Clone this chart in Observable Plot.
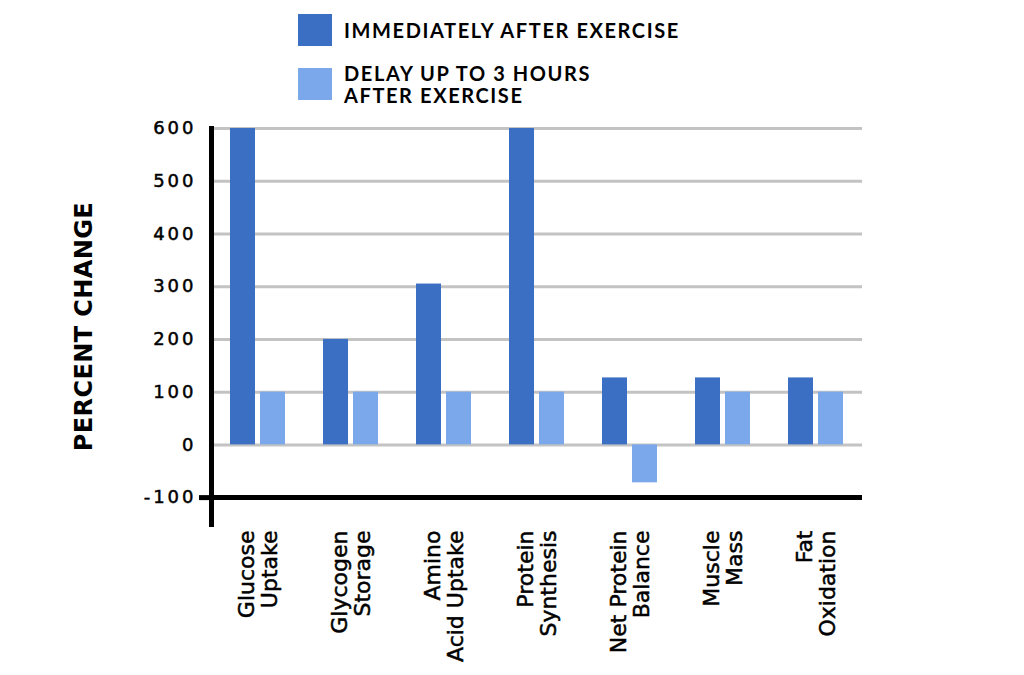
<!DOCTYPE html>
<html><head><meta charset="utf-8">
<script src="https://cdn.jsdelivr.net/npm/d3@7"></script>
<script src="https://cdn.jsdelivr.net/npm/@observablehq/plot@0.6"></script>
<style>
body{margin:0;background:#fff;font-family:Lato,"DejaVu Sans",sans-serif;color:#000;}
#legend{position:relative;height:110px;width:1024px;}
.item{position:absolute;left:298px;display:flex;align-items:center;}
.sw{width:34px;height:32px;flex:none;}
.lab{margin-left:12px;font-size:20px;letter-spacing:1.6px;line-height:22px;font-weight:700;white-space:pre;}
#chart svg{font-family:"DejaVu Sans",sans-serif;}
g[aria-label="y-axis tick label"] text{font-size:18px;letter-spacing:3px;stroke:#000;stroke-width:0.5px;}
g[aria-label="y-axis label"] text{font-size:24px;font-weight:bold;letter-spacing:0.4px;}
g[aria-label="fx-axis tick label"] text{font-size:22px;stroke:#000;stroke-width:0.5px;}
</style></head><body>
<div id="legend"></div>
<div id="chart"></div>
<script>
const categories = ["Glucose Uptake","Glycogen Storage","Amino Acid Uptake","Protein Synthesis","Net Protein Balance","Muscle Mass","Fat Oxidation"];
const tickLabels = ["Glucose\nUptake","Glycogen\nStorage","Amino\nAcid Uptake","Protein\nSynthesis","Net Protein\nBalance","Muscle\nMass","Fat\nOxidation"];
const series = ["Immediately after exercise","Delay up to 3 hours after exercise"];
const legendLabels = ["IMMEDIATELY AFTER EXERCISE","DELAY UP TO 3 HOURS\nAFTER EXERCISE"];
const immediate = [600, 200, 305, 600, 127, 127, 127];
const delayed = [100, 100, 100, 100, -72, 100, 100];
const yTicks = [-100, 0, 100, 200, 300, 400, 500, 600];
const gridTicks = [0, 100, 200, 300, 400, 500, 600];
const colors = ["#3a6fc4", "#7ba8eb"];

const data = categories.flatMap((c, i) => [
  {category: c, series: series[0], value: immediate[i]},
  {category: c, series: series[1], value: delayed[i]}
]);

// legend
const legend = document.getElementById("legend");
const tops = [14, 68];
series.forEach((s, i) => {
  const item = document.createElement("div");
  item.className = "item";
  item.style.top = tops[i] + "px";
  item.style.height = "32px";
  const sw = document.createElement("div");
  sw.className = "sw";
  sw.style.background = colors[i];
  const lab = document.createElement("div");
  lab.className = "lab";
  lab.textContent = legendLabels[i];
  item.appendChild(sw); item.appendChild(lab);
  legend.appendChild(item);
});

const plot = Plot.plot({
  width: 1024, height: 565,
  marginTop: 18, marginBottom: 151, marginLeft: 211, marginRight: 162,
  fx: {domain: categories, padding: 0, label: null},
  x: {domain: series, paddingInner: 0.18, paddingOuter: 0.64, axis: null},
  y: {domain: [-151, 600], axis: null},
  color: {domain: series, range: colors},
  marks: [
    Plot.ruleY(gridTicks, {stroke: "#c3c3c3", strokeWidth: 3}),
    Plot.barY(data, {fx: "category", x: "series", y: "value", fill: "series"}),
    Plot.ruleY([-100], {stroke: "black", strokeWidth: 5}),
    Plot.frame({anchor: "left", facetAnchor: "left", stroke: "black", strokeWidth: 5}),
    Plot.axisY({ticks: [-100], tickSize: 12, tickFormat: () => "", stroke: "black", strokeWidth: 5, label: null}),
    Plot.axisY({ticks: yTicks, tickSize: 0, tickPadding: 15, tickFormat: d => String(d), fill: "black",
      label: "PERCENT CHANGE", labelAnchor: "center", labelArrow: "none", labelOffset: 137}),
    Plot.axisFx({anchor: "bottom", tickSize: 0, tickPadding: 6, tickRotate: -90, textAnchor: "end", lineAnchor: "middle", lineHeight: 1.08,
      tickFormat: d => tickLabels[categories.indexOf(d)], fill: "black", label: null})
  ]
});
document.getElementById("chart").appendChild(plot);
</script>
</body></html>
